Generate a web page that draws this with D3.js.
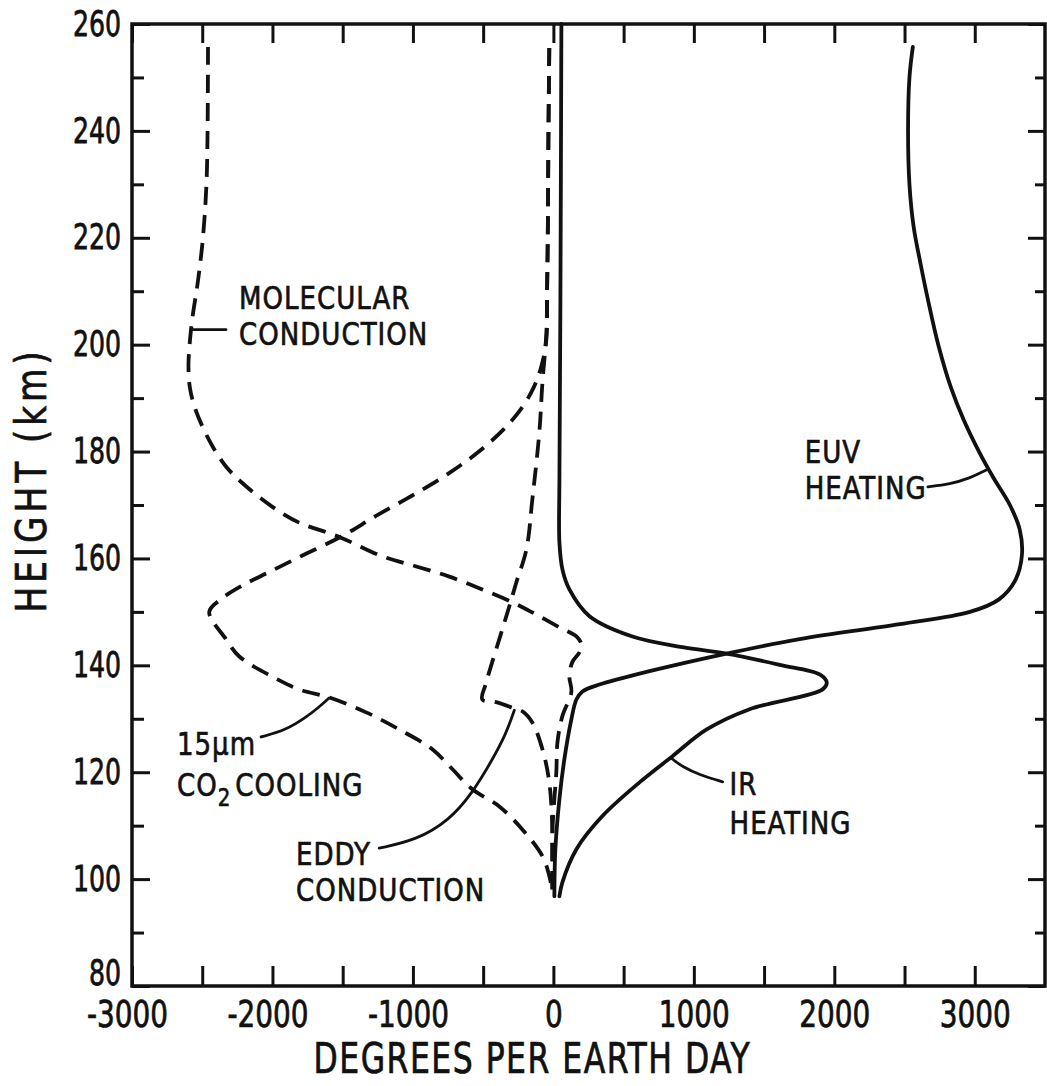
<!DOCTYPE html>
<html>
<head>
<meta charset="utf-8">
<script src="https://cdn.jsdelivr.net/npm/d3@7"></script>
<style>
  html, body { margin: 0; padding: 0; background: #fff; }
  svg { display: block; }
  text {
    font-family: "DejaVu Sans Condensed", "Liberation Sans Narrow", "DejaVu Sans", sans-serif;
    fill: #111; stroke: #111; stroke-width: 0.6;
  }
</style>
</head>
<body>
<svg id="chart" width="1047" height="1086"></svg>
<script>
// Heating / cooling rates (degrees per Earth day) against height (km).
// Each point is [rate, height].
const euvHeating = [
  [2559, 255.7], [2535, 250.0], [2525, 240.0], [2535, 230.0], [2565, 222.0],
  [2615, 215.0], [2670, 208.0], [2740, 200.0], [2830, 192.0], [2920, 186.0],
  [3030, 180.0], [3135, 175.0], [3250, 170.0], [3320, 165.4], [3336, 160.7],
  [3290, 156.0], [3170, 152.3], [2965, 150.0], [2466, 147.7], [1753, 144.9],
  [1233, 142.2], [684, 138.9], [328, 136.4], [207, 135.1], [164, 133.6],
  [128, 129.9], [78, 122.4], [43, 115.0], [14, 105.6], [7, 96.8]
];
const irHeating = [
  [57, 260.0], [50, 208.4], [43, 174.8], [43, 163.0], [64, 158.0],
  [114, 154.2], [257, 149.2], [563, 145.4], [919, 143.4], [1233, 142.2],
  [1611, 140.1], [1896, 138.3], [1946, 136.8], [1917, 135.5], [1397, 131.8],
  [1091, 128.0], [848, 123.0], [613, 118.1], [349, 111.8], [164, 105.6],
  [64, 99.4], [43, 96.8]
];
const molecularConduction = [
  [-2459, 255.7], [-2462, 240.0], [-2470, 230.0], [-2495, 220.0], [-2530, 212.0],
  [-2570, 205.0], [-2590, 200.0], [-2598, 196.0], [-2588, 192.0], [-2550, 188.0],
  [-2452, 182.2], [-2331, 177.2], [-2188, 173.5], [-2003, 169.7], [-1810, 166.7],
  [-1618, 164.9], [-1504, 163.8], [-1219, 160.4], [-976, 158.5], [-741, 156.6],
  [-506, 154.2], [-292, 151.8], [-150, 149.9], [43, 147.1], [164, 145.4],
  [200, 143.9], [185, 142.4], [135, 140.6], [114, 137.9], [128, 135.0],
  [64, 130.5], [29, 125.6], [21, 120.0], [7, 115.0], [-7, 108.8], [-7, 97.6]
];
const co2Cooling = [
  [-29, 255.5], [-35, 240.0], [-40, 220.0], [-45, 210.0], [-50, 201.0],
  [-85, 196.0], [-140, 192.0], [-230, 188.0], [-360, 184.0], [-530, 180.0],
  [-740, 176.0], [-990, 172.0], [-1260, 168.0], [-1510, 164.1], [-1790, 160.5],
  [-2020, 157.5], [-2210, 155.0], [-2360, 152.5], [-2450, 150.0], [-2331, 144.9],
  [-2238, 141.7], [-2003, 137.9], [-1810, 135.5], [-1597, 134.0], [-1333, 131.2],
  [-1098, 128.0], [-862, 124.3], [-720, 120.6], [-577, 116.8], [-385, 113.6],
  [-221, 109.3], [-78, 104.3], [-29, 100.6], [-7, 97.6]
];
const eddyConduction = [
  [-29, 255.5], [-35, 240.0], [-40, 220.0], [-45, 210.0], [-50, 202.2],
  [-78, 192.9], [-100, 183.6], [-150, 171.0], [-192, 161.7], [-264, 155.5],
  [-314, 151.0], [-385, 144.9], [-478, 136.8], [-506, 133.6], [-406, 133.1],
  [-264, 131.8], [-221, 131.4], [-150, 129.3], [-78, 124.3], [-29, 118.1],
  [-7, 108.8], [-7, 97.6]
];

// Axis ticks and labels
const xTicks = [-3000, -2500, -2000, -1500, -1000, -500, 0, 500, 1000, 1500, 2000, 2500, 3000];
const xLabelled = [-3000, -2000, -1000, 0, 1000, 2000, 3000];
const yMajor = [80, 100, 120, 140, 160, 180, 200, 220, 240, 260];
const yMinor = [90, 110, 130, 150, 170, 190, 210, 230, 250];

// Curve annotations: text lines anchored at [rate, height] and leader lines
const curveLabels = [
  { lines: ["MOLECULAR", "CONDUCTION"], at: [-2238, 208.9], step: 6.7 },
  { lines: ["EUV", "HEATING"], at: [1789, 180.1], step: 6.7 },
  { lines: ["15\u03BCm", "CO\u2082 COOLING"], at: [-2680, 125.5], step: 7.7, co2: true },
  { lines: ["EDDY", "CONDUCTION"], at: [-1832, 104.9], step: 6.8 },
  { lines: ["IR", "HEATING"], at: [1254, 118.0], step: 7.3 }
];
const leaderMolecular = [[-2580, 202.8], [-2331, 202.8]];
const leaderEuv = [[2666, 173.4], [2823, 173.9], [2965, 175.0], [3079, 176.5]];
const leaderCo2 = [[-2081, 126.6], [-1903, 127.9], [-1760, 130.3], [-1668, 132.2], [-1597, 133.9]];
const leaderEddy = [[-1240, 105.8], [-976, 107.3], [-741, 111.0], [-577, 116.1], [-435, 122.3], [-335, 127.3], [-278, 131.6]];
const leaderIr = [[1205, 118.2], [1041, 119.5], [919, 121.0], [841, 122.6]];

const svg = d3.select("#chart");
const plot = { left: 132, right: 1045, top: 24, bottom: 986 };

const x = d3.scaleLinear().domain([-3000, 3500]).range([plot.left, plot.right]);
const y = d3.scaleLinear().domain([80, 260]).range([plot.bottom, plot.top]);

const line = d3.line()
  .x(d => x(d[0]))
  .y(d => y(d[1]))
  .curve(d3.curveCatmullRom.alpha(0.5));

const leader = d3.line()
  .x(d => x(d[0]))
  .y(d => y(d[1]))
  .curve(d3.curveBasis);

// Ticks (all pointing into the plot)
function styleAxis(g) {
  g.select(".domain").remove();
  g.selectAll(".tick line").attr("stroke", "#111").attr("stroke-width", 3);
}

svg.append("g")
  .attr("transform", `translate(${plot.left},0)`)
  .call(d3.axisLeft(y).tickValues(yMajor).tickSizeInner(-18).tickSizeOuter(0).tickPadding(11))
  .call(styleAxis)
  .call(g => g.selectAll("text")
    .attr("font-size", 28)
    .attr("fill", "#111")
    .attr("dy", d => d === 80 ? "-0.05em" : "0.32em")
    .attr("transform", "scale(1,1.25)"));

svg.append("g")
  .attr("transform", `translate(${plot.left},0)`)
  .call(d3.axisLeft(y).tickValues(yMinor).tickSizeInner(-12).tickSizeOuter(0).tickFormat(""))
  .call(styleAxis);

svg.append("g")
  .attr("transform", `translate(${plot.right},0)`)
  .call(d3.axisRight(y).tickValues(yMajor).tickSizeInner(-17).tickSizeOuter(0).tickFormat(""))
  .call(styleAxis);

svg.append("g")
  .attr("transform", `translate(${plot.right},0)`)
  .call(d3.axisRight(y).tickValues(yMinor).tickSizeInner(-10).tickSizeOuter(0).tickFormat(""))
  .call(styleAxis);

svg.append("g")
  .attr("transform", `translate(0,${plot.bottom})`)
  .call(d3.axisBottom(x).tickValues(xTicks).tickSizeInner(-20).tickSizeOuter(0).tickPadding(12)
    .tickFormat(d => xLabelled.includes(d) ? (d < 0 ? "-" + Math.abs(d) : String(d)) : ""))
  .call(styleAxis)
  .call(g => g.selectAll("text")
    .attr("font-size", 31)
    .attr("fill", "#111")
    .attr("dx", d => d < 0 ? -5 : 0)
    .attr("transform", "scale(1,1.2)"));

svg.append("g")
  .attr("transform", `translate(0,${plot.top})`)
  .call(d3.axisTop(x).tickValues(xTicks).tickSizeInner(-19).tickSizeOuter(0).tickFormat(""))
  .call(styleAxis);

// Frame
svg.append("rect")
  .attr("x", plot.left).attr("y", plot.top)
  .attr("width", plot.right - plot.left).attr("height", plot.bottom - plot.top)
  .attr("fill", "none").attr("stroke", "#111").attr("stroke-width", 3.5);

// Axis titles
svg.append("g")
  .attr("transform", `translate(${x(-150)},1073) scale(1,1.2)`)
  .append("text")
  .attr("text-anchor", "middle")
  .attr("font-size", 35)
  .attr("letter-spacing", 1.5)
  .text("DEGREES PER EARTH DAY");

svg.append("g")
  .attr("transform", `translate(46,${y(174.7)}) rotate(-90) scale(1,1.1)`)
  .append("text")
  .attr("text-anchor", "middle")
  .attr("font-size", 38)
  .attr("letter-spacing", 4)
  .text("HEIGHT (km)");

// Curves
const curves = svg.append("g").attr("fill", "none").attr("stroke", "#111")
  .attr("stroke-linejoin", "round").attr("stroke-linecap", "round");

[euvHeating, irHeating].forEach(d => {
  curves.append("path").attr("d", line(d)).attr("stroke-width", 3.8);
});

[molecularConduction, co2Cooling, eddyConduction].forEach(d => {
  curves.append("path").attr("d", line(d))
    .attr("stroke-width", 3.8)
    .attr("stroke-linecap", "butt")
    .attr("stroke-dasharray", "18 10");
});

// Leader lines
[leaderMolecular, leaderEuv, leaderCo2, leaderEddy, leaderIr].forEach(d => {
  curves.append("path").attr("d", leader(d)).attr("stroke-width", 2.8);
});

// Curve labels (slightly tall lettering)
curveLabels.forEach(lab => {
  lab.lines.forEach((txt, i) => {
    const t = svg.append("g")
      .attr("transform", `translate(${x(lab.at[0])},${y(lab.at[1] - i * lab.step)}) scale(1,1.12)`)
      .append("text")
      .attr("dy", "0.36em")
      .attr("font-size", 29)
      .attr("letter-spacing", 1);
    if (lab.co2 && i === 1) {
      t.append("tspan").text("CO");
      t.append("tspan").attr("font-size", 22).attr("dy", 9).text("2");
      t.append("tspan").attr("dy", -9).attr("dx", 4).text("COOLING");
    } else {
      t.text(txt);
    }
  });
});
</script>
</body>
</html>
